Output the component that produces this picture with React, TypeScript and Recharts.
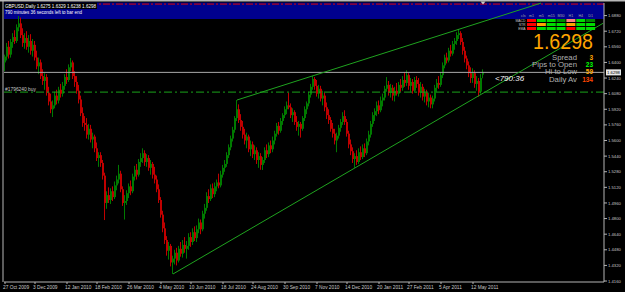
import React from 'react';
import { ComposedChart, Bar, XAxis, YAxis, ReferenceLine } from 'recharts';

// GBPUSD daily, one candle per two sessions: [open, high, low, close]
const CANDLES: number[][] = [
  [1.6400, 1.6480, 1.6310, 1.6460], [1.6460, 1.6600, 1.6420, 1.6560], [1.6560, 1.6620, 1.6440, 1.6480],
  [1.6480, 1.6640, 1.6450, 1.6610], [1.6610, 1.6700, 1.6550, 1.6660], [1.6660, 1.6730, 1.6590, 1.6620],
  [1.6620, 1.6790, 1.6600, 1.6760], [1.6760, 1.6876, 1.6720, 1.6800], [1.6800, 1.6860, 1.6650, 1.6680],
  [1.6680, 1.6750, 1.6560, 1.6600], [1.6600, 1.6700, 1.6540, 1.6650], [1.6650, 1.6720, 1.6530, 1.6560],
  [1.6560, 1.6680, 1.6500, 1.6620], [1.6620, 1.6690, 1.6480, 1.6520], [1.6520, 1.6640, 1.6460, 1.6580],
  [1.6580, 1.6620, 1.6420, 1.6450], [1.6450, 1.6520, 1.6330, 1.6360], [1.6360, 1.6450, 1.6280, 1.6400],
  [1.6400, 1.6430, 1.6230, 1.6260], [1.6260, 1.6330, 1.6170, 1.6210], [1.6210, 1.6290, 1.6120, 1.6250],
  [1.6250, 1.6280, 1.6060, 1.6090], [1.6090, 1.6150, 1.5960, 1.6000], [1.6000, 1.6080, 1.5880, 1.5920],
  [1.5920, 1.6010, 1.5841, 1.5960], [1.5960, 1.6100, 1.5930, 1.6060], [1.6060, 1.6120, 1.5970, 1.6010],
  [1.6010, 1.6150, 1.5980, 1.6120], [1.6120, 1.6180, 1.6040, 1.6080], [1.6080, 1.6200, 1.6050, 1.6160],
  [1.6160, 1.6280, 1.6120, 1.6250], [1.6250, 1.6330, 1.6180, 1.6220], [1.6220, 1.6380, 1.6200, 1.6350],
  [1.6350, 1.6446, 1.6310, 1.6400], [1.6400, 1.6420, 1.6230, 1.6260], [1.6260, 1.6310, 1.6150, 1.6200],
  [1.6200, 1.6260, 1.6080, 1.6110], [1.6110, 1.6170, 1.5980, 1.6020], [1.6020, 1.6060, 1.5850, 1.5880],
  [1.5880, 1.5940, 1.5740, 1.5780], [1.5780, 1.5850, 1.5700, 1.5760], [1.5760, 1.5830, 1.5620, 1.5660],
  [1.5660, 1.5770, 1.5610, 1.5720], [1.5720, 1.5760, 1.5580, 1.5610], [1.5610, 1.5680, 1.5520, 1.5640],
  [1.5640, 1.5660, 1.5480, 1.5520], [1.5520, 1.5580, 1.5390, 1.5420], [1.5420, 1.5480, 1.5330, 1.5450],
  [1.5450, 1.5480, 1.5330, 1.5370], [1.5370, 1.5400, 1.5200, 1.5240], [1.5240, 1.5270, 1.4785, 1.4960],
  [1.4960, 1.5080, 1.4900, 1.5040], [1.5040, 1.5120, 1.4960, 1.4990], [1.4990, 1.5110, 1.4950, 1.5080],
  [1.5080, 1.5130, 1.4980, 1.5020], [1.5020, 1.5180, 1.5000, 1.5140], [1.5140, 1.5240, 1.5090, 1.5200],
  [1.5200, 1.5350, 1.5160, 1.5260], [1.5260, 1.5290, 1.5070, 1.5100], [1.5100, 1.5130, 1.4930, 1.4960],
  [1.4960, 1.5040, 1.4790, 1.4980], [1.4980, 1.5090, 1.4940, 1.5060], [1.5060, 1.5160, 1.5010, 1.5130],
  [1.5130, 1.5190, 1.5040, 1.5080], [1.5080, 1.5260, 1.5060, 1.5230], [1.5230, 1.5340, 1.5190, 1.5300],
  [1.5300, 1.5360, 1.5200, 1.5250], [1.5250, 1.5410, 1.5230, 1.5380], [1.5380, 1.5470, 1.5330, 1.5420],
  [1.5420, 1.5520, 1.5370, 1.5470], [1.5470, 1.5500, 1.5340, 1.5380], [1.5380, 1.5460, 1.5330, 1.5420],
  [1.5420, 1.5450, 1.5290, 1.5320], [1.5320, 1.5400, 1.5250, 1.5360], [1.5360, 1.5380, 1.5210, 1.5250],
  [1.5250, 1.5330, 1.5160, 1.5200], [1.5200, 1.5240, 1.5070, 1.5100], [1.5100, 1.5150, 1.4960, 1.4990],
  [1.4990, 1.5020, 1.4810, 1.4840], [1.4840, 1.4880, 1.4660, 1.4700], [1.4700, 1.4760, 1.4540, 1.4580],
  [1.4580, 1.4620, 1.4420, 1.4470], [1.4470, 1.4560, 1.4380, 1.4520], [1.4520, 1.4540, 1.4310, 1.4350],
  [1.4350, 1.4420, 1.4232, 1.4390], [1.4390, 1.4480, 1.4330, 1.4450], [1.4450, 1.4500, 1.4320, 1.4370],
  [1.4370, 1.4520, 1.4350, 1.4490], [1.4490, 1.4560, 1.4410, 1.4440], [1.4440, 1.4580, 1.4400, 1.4530],
  [1.4530, 1.4610, 1.4450, 1.4490], [1.4490, 1.4570, 1.4390, 1.4520], [1.4520, 1.4650, 1.4480, 1.4610],
  [1.4610, 1.4660, 1.4510, 1.4560], [1.4560, 1.4700, 1.4530, 1.4660], [1.4660, 1.4720, 1.4570, 1.4600],
  [1.4600, 1.4730, 1.4560, 1.4690], [1.4690, 1.4800, 1.4650, 1.4760], [1.4760, 1.4790, 1.4640, 1.4690],
  [1.4690, 1.4880, 1.4670, 1.4850], [1.4850, 1.4950, 1.4800, 1.4910], [1.4910, 1.5070, 1.4880, 1.5030],
  [1.5030, 1.5100, 1.4960, 1.5000], [1.5000, 1.5150, 1.4980, 1.5110], [1.5110, 1.5160, 1.5010, 1.5050],
  [1.5050, 1.5170, 1.5020, 1.5130], [1.5130, 1.5200, 1.5080, 1.5170], [1.5170, 1.5260, 1.5110, 1.5140],
  [1.5140, 1.5290, 1.5120, 1.5250], [1.5250, 1.5350, 1.5220, 1.5320], [1.5320, 1.5400, 1.5280, 1.5360],
  [1.5360, 1.5480, 1.5330, 1.5450], [1.5450, 1.5560, 1.5420, 1.5530], [1.5530, 1.5650, 1.5500, 1.5620],
  [1.5620, 1.5740, 1.5590, 1.5710], [1.5710, 1.5850, 1.5680, 1.5830], [1.5830, 1.6015, 1.5800, 1.5920],
  [1.5920, 1.5970, 1.5780, 1.5810], [1.5810, 1.5870, 1.5700, 1.5740], [1.5740, 1.5800, 1.5620, 1.5660],
  [1.5660, 1.5720, 1.5560, 1.5600], [1.5600, 1.5680, 1.5520, 1.5640], [1.5640, 1.5660, 1.5480, 1.5510],
  [1.5510, 1.5600, 1.5440, 1.5560], [1.5560, 1.5590, 1.5420, 1.5460], [1.5460, 1.5550, 1.5400, 1.5500],
  [1.5500, 1.5530, 1.5360, 1.5400], [1.5400, 1.5480, 1.5320, 1.5440], [1.5440, 1.5470, 1.5300, 1.5350],
  [1.5350, 1.5430, 1.5298, 1.5400], [1.5400, 1.5530, 1.5370, 1.5500], [1.5500, 1.5560, 1.5420, 1.5460],
  [1.5460, 1.5580, 1.5430, 1.5550], [1.5550, 1.5600, 1.5470, 1.5510], [1.5510, 1.5640, 1.5480, 1.5600],
  [1.5600, 1.5700, 1.5560, 1.5670], [1.5670, 1.5780, 1.5640, 1.5750], [1.5750, 1.5790, 1.5660, 1.5700],
  [1.5700, 1.5830, 1.5680, 1.5800], [1.5800, 1.5880, 1.5760, 1.5860], [1.5860, 1.5950, 1.5830, 1.5920],
  [1.5920, 1.6000, 1.5870, 1.5960], [1.5960, 1.6090, 1.5920, 1.5940], [1.5940, 1.5980, 1.5830, 1.5860],
  [1.5860, 1.5930, 1.5790, 1.5890], [1.5890, 1.5910, 1.5760, 1.5790], [1.5790, 1.5850, 1.5700, 1.5740],
  [1.5740, 1.5800, 1.5650, 1.5770], [1.5770, 1.5790, 1.5630, 1.5720], [1.5720, 1.5850, 1.5700, 1.5830],
  [1.5830, 1.5950, 1.5800, 1.5920], [1.5920, 1.6000, 1.5870, 1.5980], [1.5980, 1.6100, 1.5950, 1.6070],
  [1.6070, 1.6180, 1.6040, 1.6150], [1.6150, 1.6262, 1.6120, 1.6230], [1.6230, 1.6250, 1.6120, 1.6160],
  [1.6160, 1.6220, 1.6050, 1.6080], [1.6080, 1.6170, 1.6030, 1.6130], [1.6130, 1.6160, 1.6000, 1.6030],
  [1.6030, 1.6110, 1.5960, 1.6060], [1.6060, 1.6090, 1.5900, 1.5940], [1.5940, 1.5990, 1.5820, 1.5860],
  [1.5860, 1.5920, 1.5770, 1.5810], [1.5810, 1.5840, 1.5690, 1.5720], [1.5720, 1.5780, 1.5630, 1.5670],
  [1.5670, 1.5720, 1.5560, 1.5600], [1.5600, 1.5680, 1.5480, 1.5650], [1.5650, 1.5760, 1.5620, 1.5730],
  [1.5730, 1.5820, 1.5690, 1.5790], [1.5790, 1.5890, 1.5760, 1.5850], [1.5850, 1.5910, 1.5760, 1.5790],
  [1.5790, 1.5820, 1.5640, 1.5670], [1.5670, 1.5700, 1.5520, 1.5560], [1.5560, 1.5610, 1.5450, 1.5490],
  [1.5490, 1.5530, 1.5370, 1.5410], [1.5410, 1.5470, 1.5320, 1.5440], [1.5440, 1.5500, 1.5350, 1.5380],
  [1.5380, 1.5520, 1.5360, 1.5480], [1.5480, 1.5540, 1.5400, 1.5430], [1.5430, 1.5560, 1.5410, 1.5520],
  [1.5520, 1.5570, 1.5430, 1.5470], [1.5470, 1.5620, 1.5450, 1.5590], [1.5590, 1.5700, 1.5550, 1.5660],
  [1.5660, 1.5800, 1.5630, 1.5770], [1.5770, 1.5890, 1.5740, 1.5860], [1.5860, 1.5930, 1.5800, 1.5900],
  [1.5900, 1.6000, 1.5850, 1.5960], [1.5960, 1.6010, 1.5870, 1.5910], [1.5910, 1.6050, 1.5890, 1.6010],
  [1.6010, 1.6080, 1.5950, 1.6040], [1.6040, 1.6160, 1.6010, 1.6130], [1.6130, 1.6250, 1.6100, 1.6170],
  [1.6170, 1.6210, 1.6060, 1.6090], [1.6090, 1.6180, 1.6040, 1.6140], [1.6140, 1.6170, 1.6010, 1.6060],
  [1.6060, 1.6150, 1.6000, 1.6110], [1.6110, 1.6190, 1.6060, 1.6080], [1.6080, 1.6200, 1.6050, 1.6170],
  [1.6170, 1.6230, 1.6100, 1.6140], [1.6140, 1.6260, 1.6110, 1.6220], [1.6220, 1.6300, 1.6150, 1.6190],
  [1.6190, 1.6320, 1.6160, 1.6270], [1.6270, 1.6290, 1.6120, 1.6160], [1.6160, 1.6240, 1.6100, 1.6200],
  [1.6200, 1.6230, 1.6080, 1.6110], [1.6110, 1.6250, 1.6090, 1.6220], [1.6220, 1.6260, 1.6140, 1.6180],
  [1.6180, 1.6240, 1.6060, 1.6090], [1.6090, 1.6200, 1.6040, 1.6150], [1.6150, 1.6180, 1.6010, 1.6050],
  [1.6050, 1.6130, 1.5990, 1.6090], [1.6090, 1.6120, 1.5960, 1.6000], [1.6000, 1.6090, 1.5940, 1.6040],
  [1.6040, 1.6070, 1.5930, 1.5970], [1.5970, 1.6060, 1.5930, 1.6030], [1.6030, 1.6170, 1.6000, 1.6140],
  [1.6140, 1.6230, 1.6100, 1.6190], [1.6190, 1.6260, 1.6130, 1.6170], [1.6170, 1.6300, 1.6150, 1.6270],
  [1.6270, 1.6400, 1.6240, 1.6370], [1.6370, 1.6480, 1.6340, 1.6450], [1.6450, 1.6500, 1.6390, 1.6420],
  [1.6420, 1.6550, 1.6400, 1.6520], [1.6520, 1.6580, 1.6460, 1.6490], [1.6490, 1.6620, 1.6470, 1.6590],
  [1.6590, 1.6650, 1.6530, 1.6620], [1.6620, 1.6710, 1.6580, 1.6680], [1.6680, 1.6743, 1.6640, 1.6700],
  [1.6700, 1.6720, 1.6580, 1.6610], [1.6610, 1.6650, 1.6480, 1.6520], [1.6520, 1.6560, 1.6400, 1.6440],
  [1.6440, 1.6470, 1.6330, 1.6370], [1.6370, 1.6410, 1.6250, 1.6290], [1.6290, 1.6350, 1.6190, 1.6240],
  [1.6240, 1.6340, 1.6190, 1.6290], [1.6290, 1.6320, 1.6140, 1.6180], [1.6180, 1.6260, 1.6110, 1.6210],
  [1.6210, 1.6240, 1.6050, 1.6100], [1.6100, 1.6280, 1.6080, 1.6240], [1.6275, 1.6329, 1.6238, 1.6298],
];

// empty bars to the right of the last candle (chart shift)
const SHIFT_BARS = 60;

const DATE_LABELS = [
  '27 Oct 2009', '3 Dec 2009', '12 Jan 2010', '18 Feb 2010', '26 Mar 2010', '4 May 2010',
  '10 Jun 2010', '18 Jul 2010', '24 Aug 2010', '30 Sep 2010', '7 Nov 2010', '14 Dec 2010',
  '20 Jan 2011', '27 Feb 2011', '5 Apr 2011', '12 May 2011',
];
const DATE_BARS = [0, 15, 31, 46, 62, 78, 93, 109, 124, 140, 156, 171, 187, 202, 218, 234];

const PRICE_TICKS = [
  1.416, 1.432, 1.448, 1.464, 1.48, 1.496, 1.512, 1.528, 1.544,
  1.56, 1.576, 1.592, 1.608, 1.624, 1.64, 1.656, 1.672, 1.688,
];
const PRICE_MIN = 1.415;
const PRICE_MAX = 1.7009;

const BID = 1.6298;
const ORDER_PRICE = 1.6096;
const ORDER_TEXT = '#1796240 buy';
const TOP_LINE_PRICE = 1.6998;

const TREND_LOW = [{ i: 84, p: 1.4232 }, { i: 299, p: 1.6801 }];
const TREND_HIGH = [{ i: 116, p: 1.6015 }, { i: 268, p: 1.7008 }];

const TITLE = 'GBPUSD,Daily  1.6275 1.6329 1.6238 1.6298';
const TIMER_TEXT = '790 minutes 36 seconds left to bar end';
const TIMER_SHORT = '<790:36';

const TF_HEADERS = ['m1', 'm5', 'm15', 'M30', 'H1', 'H4', 'D1'];
const SIGNAL_ROWS = ['MACD', 'STR', 'EMA'];
const SIGNAL_COLORS = [
  ['#ff0000', '#00dd00', '#00dd00', '#008800', '#ff8080', '#00dd00', '#008800'],
  ['#ff0000', '#ffa500', '#00dd00', '#00dd00', '#ffa500', '#00dd00', '#00dd00'],
  ['#ff0000', '#00dd00', '#00dd00', '#00dd00', '#ff0000', '#00dd00', '#00dd00'],
];

const INFO_LABELS = ['Spread', 'Pips to Open', 'Hi to Low', 'Daily Av'];
const INFO_WIDTHS = [25, 45, 32, 28];
const INFO_VALUES = ['3', '23', '59', '134'];
const INFO_COLORS = ['#ffa500', '#00ff00', '#ffa500', '#ff4500'];

const UP = '#007a00';
const DOWN = '#c00000';
const TREND = '#1fa31f';
const AXIS = '#b4b4b4';
const FONT = '"Liberation Sans", Arial, sans-serif';

const chartData = [
  ...CANDLES.map((c, i) => ({ i, o: c[0], h: c[1], l: c[2], c: c[3], range: [c[2], c[1]] })),
  ...Array.from({ length: SHIFT_BARS }, (_, k) => ({ i: CANDLES.length + k })),
];

// candle drawn inside the low-high range bar
const Candle = (props: any) => {
  const { x, y, height, payload } = props;
  if (!payload || payload.o == null || height == null) return null;
  const { o, h, l, c } = payload;
  const color = c >= o ? UP : DOWN;
  const span = h - l || 1;
  const top = y + ((h - Math.max(o, c)) / span) * height;
  const bot = y + ((h - Math.min(o, c)) / span) * height;
  const bx = Math.round(x);
  return (
    <g>
      <rect x={bx} y={y} width={1} height={Math.max(height, 1)} fill={color} />
      <rect x={bx} y={top} width={2} height={Math.max(bot - top, 1)} fill={color} />
    </g>
  );
};

const DateTick = (props: any) => {
  const { x, y, payload } = props;
  const k = DATE_BARS.indexOf(payload.value);
  return (
    <text x={x - 2} y={y + 4.5} fontSize={4.8} fill='#c8c8c8' fontFamily={FONT} textAnchor='start'>
      {DATE_LABELS[k]}
    </text>
  );
};

const PriceTick = (props: any) => {
  const { x, y, payload } = props;
  return (
    <text x={x} y={y + 1.6} fontSize={4.2} fill='#c8c8c8' fontFamily={FONT} textAnchor='start'>
      {Number(payload.value).toFixed(4)}
    </text>
  );
};

const BidLabel = (props: any) => {
  const vb = props.viewBox || {};
  const x = vb.x + vb.width + 2;
  return (
    <g>
      <rect x={x} y={vb.y - 3} width={15} height={6} fill='#e8e8e8' />
      <text x={x + 7.5} y={vb.y + 1.6} fontSize={4.2} fill='#000' fontFamily={FONT} textAnchor='middle'>
        {BID.toFixed(4)}
      </text>
    </g>
  );
};

const OrderLabel = (props: any) => {
  const vb = props.viewBox || {};
  return (
    <text x={vb.x + 1} y={vb.y - 1.5} fontSize={4.5} fill='#c8c8c8' fontFamily={FONT} textLength={31} lengthAdjust='spacingAndGlyphs'>
      {ORDER_TEXT}
    </text>
  );
};

export default function App() {
  const colX = (k: number) => 527 + k * 9.85;
  return (
    <div style={{ position: 'fixed', left: 0, top: 0, width: 625, height: 292, background: '#000', overflow: 'hidden' }}>
      {/* header band behind the chart */}
      <svg width={625} height={292} style={{ position: 'absolute', left: 0, top: 0 }}>
        <rect x={4} y={2.5} width={600} height={16.5} fill='#00008e' />
      </svg>

      <div style={{ position: 'absolute', left: 0, top: 0 }}>
        <ComposedChart
          width={625}
          height={292}
          data={chartData}
          margin={{ top: 3, right: 0, bottom: 0, left: 4 }}
          barCategoryGap={0}
          barGap={0}
        >
          <XAxis
            dataKey='i'
            type='category'
            ticks={DATE_BARS}
            interval={0}
            height={10}
            tickSize={2}
            tickMargin={0}
            stroke={AXIS}
            tick={<DateTick />}
          />
          <YAxis
            orientation='right'
            type='number'
            domain={[PRICE_MIN, PRICE_MAX]}
            allowDataOverflow
            ticks={PRICE_TICKS}
            interval={0}
            width={21}
            tickSize={3}
            tickMargin={1}
            stroke={AXIS}
            tick={<PriceTick />}
          />
          <ReferenceLine y={TOP_LINE_PRICE} stroke='#e00000' strokeDasharray='7 2 2 2' />
          <ReferenceLine y={ORDER_PRICE} stroke='#1aa31a' strokeDasharray='8 3 2 3' label={<OrderLabel />} />
          <ReferenceLine y={BID} stroke='#a8a8a8' label={<BidLabel />} />
          <Bar dataKey='range' shape={<Candle />} isAnimationActive={false} />
          <ReferenceLine
            segment={[{ x: TREND_LOW[0].i, y: TREND_LOW[0].p }, { x: TREND_LOW[1].i, y: TREND_LOW[1].p }]}
            stroke={TREND}
            strokeWidth={1}
          />
          <ReferenceLine
            segment={[{ x: TREND_HIGH[0].i, y: TREND_HIGH[0].p }, { x: TREND_HIGH[1].i, y: TREND_HIGH[1].p }]}
            stroke={TREND}
            strokeWidth={1}
          />
        </ComposedChart>
      </div>

      {/* terminal overlays */}
      <svg width={625} height={292} style={{ position: 'absolute', left: 0, top: 0, pointerEvents: 'none' }} fontFamily={FONT}>
        <rect x={0} y={0} width={625} height={1.5} fill='#b8b8b8' />
        <rect x={2.5} y={0} width={1} height={282} fill='#b8b8b8' />
        <polygon points='480.5,1.5 485.5,1.5 483,4.5' fill='#c8c8c8' />

        <rect x={4} y={2.5} width={93} height={6.5} fill='#000' />
        <text x={5} y={7.8} fontSize={5} fill='#fff' textLength={91} lengthAdjust='spacingAndGlyphs'>{TITLE}</text>
        <text x={5} y={13.8} fontSize={5} fill='#fff' textLength={77} lengthAdjust='spacingAndGlyphs'>{TIMER_TEXT}</text>

        <text x={525.5} y={17} fontSize={3.6} fill='#a8a8a8' textAnchor='end'>cls</text>
        {TF_HEADERS.map((t, k) => (
          <text key={t} x={colX(k) + 4.5} y={17} fontSize={3.6} fill='#a8a8a8' textAnchor='middle'>{t}</text>
        ))}
        {SIGNAL_ROWS.map((r, row) => (
          <g key={r}>
            <text x={525.5} y={21.8 + row * 4} fontSize={3.4} fill='#c8c8c8' textAnchor='end'>{r}</text>
            {SIGNAL_COLORS[row].map((col, k) => (
              <rect key={k} x={colX(k)} y={19 + row * 4} width={9} height={3} fill={col} />
            ))}
          </g>
        ))}

        <text x={533} y={49} fontSize={22} fill='#ffa500' textLength={60} lengthAdjust='spacingAndGlyphs'>{BID.toFixed(4)}</text>
        {INFO_LABELS.map((t, k) => (
          <g key={t}>
            <text x={577} y={59.7 + k * 7.3} fontSize={6.5} fill='#b0b0b0' textAnchor='end' textLength={INFO_WIDTHS[k]} lengthAdjust='spacingAndGlyphs'>{t}</text>
            <text x={593} y={59.7 + k * 7.3} fontSize={6.5} fill={INFO_COLORS[k]} textAnchor='end' fontWeight='bold'>{INFO_VALUES[k]}</text>
          </g>
        ))}
        <text x={495} y={80.5} fontSize={8} fill='#fff' fontStyle='italic'>{TIMER_SHORT}</text>
      </svg>
    </div>
  );
}
